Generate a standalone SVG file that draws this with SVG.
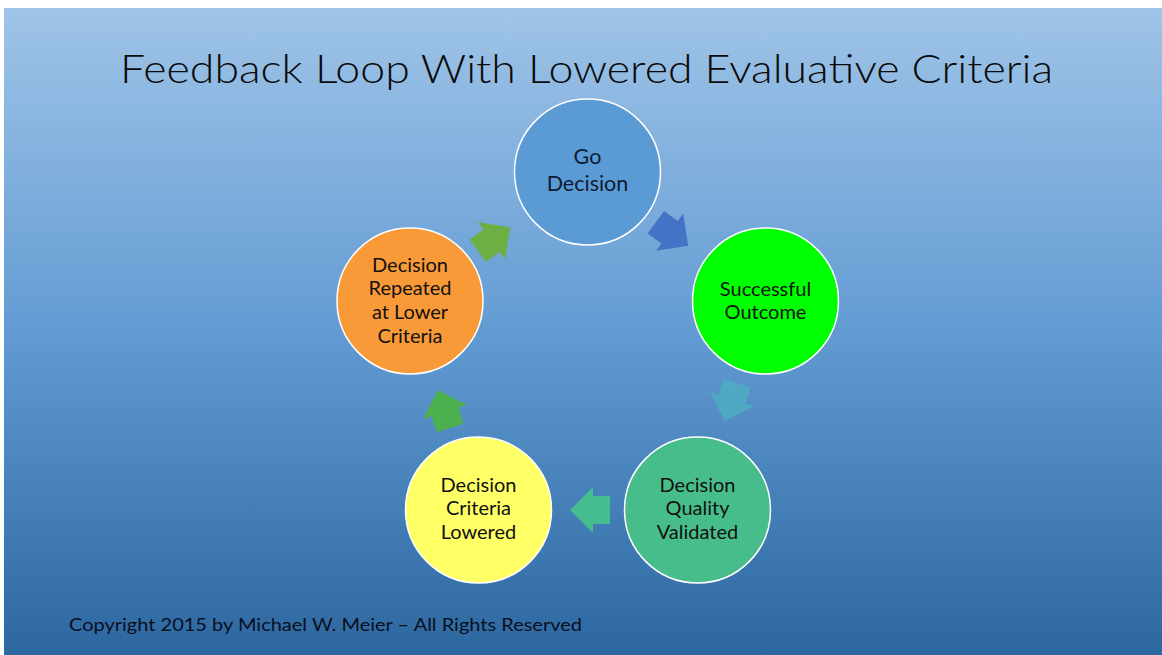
<svg xmlns="http://www.w3.org/2000/svg" width="1162" height="655" viewBox="0 0 1162 655">
  <defs>
    <linearGradient id="bg" x1="0" y1="0" x2="0" y2="1">
      <stop offset="0" stop-color="#9FC4E7"/>
      <stop offset="0.5" stop-color="#629BD3"/>
      <stop offset="1" stop-color="#2C679F"/>
    </linearGradient>
    <polygon id="arrow" points="-20,-14 -3,-14 -3,-23 20,0 -3,23 -3,14 -20,14"/>
  </defs>
  <style>
    .node { stroke: #FFFFFF; stroke-width: 1.5; }
    .lbl { font-family: Lato, "Open Sans", sans-serif; font-size: 20px; fill: #111111; text-anchor: middle; }
  </style>
  <rect x="0" y="0" width="1162" height="655" fill="#FFFFFF"/>
  <rect x="4" y="8" width="1158" height="647" fill="url(#bg)"/>
  <text x="586.5" y="83" font-family="Lato, 'Open Sans', sans-serif" font-weight="300" font-size="40" fill="#0A0A0A" text-anchor="middle" textLength="933" lengthAdjust="spacingAndGlyphs">Feedback Loop With Lowered Evaluative Criteria</text>

  <g id="connectors">
    <use href="#arrow" transform="translate(672,234) rotate(36)" fill="#4472C4"/>
    <use href="#arrow" transform="translate(731,402) rotate(108)" fill="#4DADC2" fill-opacity="0.85"/>
    <use href="#arrow" transform="translate(590,510) rotate(180)" fill="#46BD8E"/>
    <use href="#arrow" transform="translate(444,409) rotate(252)" fill="#4DB04E"/>
    <use href="#arrow" transform="translate(494,239) rotate(324)" fill="#6EAF44"/>
  </g>

  <g id="go-decision">
    <circle class="node" cx="587.5" cy="172" r="73" fill="#5B9BD5"/>
    <text class="lbl" style="font-size:21.5px;fill:#0E1B33" x="587.5" y="164">Go</text>
    <text class="lbl" style="font-size:21.5px;fill:#0E1B33" x="587.5" y="191">Decision</text>
  </g>
  <g id="successful-outcome">
    <circle class="node" cx="765.5" cy="301" r="73" fill="#00FF00"/>
    <text class="lbl" x="765.5" y="296">Successful</text>
    <text class="lbl" x="765.5" y="319">Outcome</text>
  </g>
  <g id="decision-quality-validated">
    <circle class="node" cx="697.5" cy="510" r="73" fill="#47BD8B"/>
    <text class="lbl" x="697.5" y="492">Decision</text>
    <text class="lbl" x="697.5" y="515">Quality</text>
    <text class="lbl" x="697.5" y="539">Validated</text>
  </g>
  <g id="decision-criteria-lowered">
    <circle class="node" cx="478.5" cy="510" r="73" fill="#FFFF66"/>
    <text class="lbl" x="478.5" y="492">Decision</text>
    <text class="lbl" x="478.5" y="515">Criteria</text>
    <text class="lbl" x="478.5" y="539">Lowered</text>
  </g>
  <g id="decision-repeated">
    <circle class="node" cx="410" cy="301" r="73" fill="#F99A38"/>
    <text class="lbl" x="410" y="272">Decision</text>
    <text class="lbl" x="410" y="295">Repeated</text>
    <text class="lbl" x="410" y="319">at Lower</text>
    <text class="lbl" x="410" y="343">Criteria</text>
  </g>

  <text x="69" y="631" font-family="Lato, 'Open Sans', sans-serif" font-size="17.5" fill="#0A0F1E" textLength="513" lengthAdjust="spacingAndGlyphs">Copyright 2015 by Michael W. Meier – All Rights Reserved</text>
</svg>
